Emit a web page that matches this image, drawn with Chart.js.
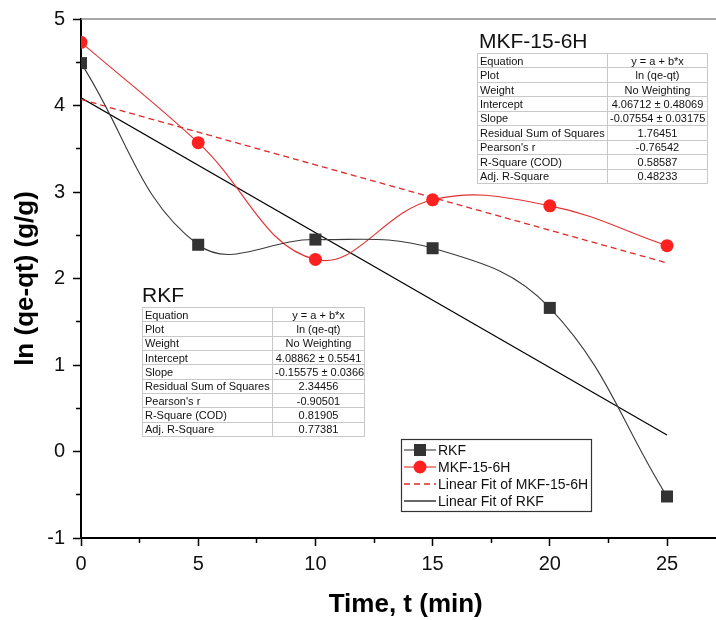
<!DOCTYPE html>
<html><head><meta charset="utf-8">
<script src="https://cdn.jsdelivr.net/npm/chart.js@4"></script>
<style>
html,body{margin:0;padding:0;background:#fff;}
#wrap{position:relative;width:716px;height:620px;font-family:"Liberation Sans",Arial,sans-serif;overflow:hidden;}
#wrap canvas{position:absolute;left:0;top:0;}
.ttl{position:absolute;font-size:21px;line-height:21px;color:#111;white-space:nowrap;}
table.st{position:absolute;border-collapse:collapse;border:1.5px solid #222;font-size:11px;background:#fff;table-layout:fixed;color:#111;}
table.st td{border:1px solid #c8c8c8;padding:0 2px;line-height:12px;white-space:nowrap;overflow:hidden;}
table.st td.v{text-align:center;}
</style></head>
<body>
<div id="wrap">
<canvas id="c" width="716" height="620"></canvas>
<div class="ttl" id="tMKF" style="left:479px;top:30px;"></div>
<table class="st" id="sMKF" style="left:477px;top:53px;width:231px;height:131px;"><colgroup><col style="width:130px"><col></colgroup><tbody></tbody></table>
<div class="ttl" id="tRKF" style="left:142px;top:284px;"></div>
<table class="st" id="sRKF" style="left:142px;top:307px;width:223px;height:130px;"><colgroup><col style="width:130px"><col></colgroup><tbody></tbody></table>
</div>
<script>
// ---- data ----
const times = [0, 5, 10, 15, 20, 25];
const rkf = [4.49, 2.39, 2.45, 2.35, 1.66, -0.52];
const mkf = [4.73, 3.57, 2.22, 2.91, 2.84, 2.38];
const fitTimes = [0, 25];
const rkfFit = [4.09, 0.19];
const mkfFit = [4.07, 2.18];
const xTickLabels = [0, 5, 10, 15, 20, 25];
const yTickLabels = [-1, 0, 1, 2, 3, 4, 5];
const seriesNames = ['RKF', 'MKF-15-6H', 'Linear Fit of MKF-15-6H', 'Linear Fit of RKF'];
const statLabels = ['Equation', 'Plot', 'Weight', 'Intercept', 'Slope', 'Residual Sum of Squares', "Pearson's r", 'R-Square (COD)', 'Adj. R-Square'];
const mkfStats = ['y = a + b*x', 'ln (qe-qt)', 'No Weighting', '4.06712 ± 0.48069', '-0.07554 ± 0.03175', '1.76451', '-0.76542', '0.58587', '0.48233'];
const rkfStats = ['y = a + b*x', 'ln (qe-qt)', 'No Weighting', '4.08862 ± 0.5541', '-0.15575 ± 0.0366', '2.34456', '-0.90501', '0.81905', '0.77381'];

function fillTable(id, vals){
  const tb = document.querySelector('#' + id + ' tbody');
  statLabels.forEach((l, i) => {
    const tr = document.createElement('tr');
    const a = document.createElement('td'); a.textContent = l;
    const b = document.createElement('td'); b.className = 'v'; b.textContent = vals[i];
    tr.appendChild(a); tr.appendChild(b); tb.appendChild(tr);
  });
}
fillTable('sMKF', mkfStats);
fillTable('sRKF', rkfStats);
document.getElementById('tMKF').textContent = seriesNames[1];
document.getElementById('tRKF').textContent = seriesNames[0];

const pts = (xs, ys) => xs.map((x, i) => ({x: x, y: ys[i]}));
const RED = '#ff2020';

const topLine = {
  id: 'topLine',
  afterDraw(chart){
    const {ctx, chartArea} = chart;
    ctx.save();
    ctx.strokeStyle = '#8a8a8a'; ctx.lineWidth = 1.5;
    ctx.beginPath(); ctx.moveTo(chartArea.left, chartArea.top); ctx.lineTo(chart.width, chartArea.top); ctx.stroke();
    ctx.restore();
  }
};

const boxLegend = {
  id: 'boxLegend',
  afterDraw(chart){
    const ctx = chart.ctx;
    const bx = 401, by = 439, bw = 190, bh = 72;
    ctx.save();
    ctx.fillStyle = '#fff'; ctx.fillRect(bx, by, bw, bh);
    ctx.strokeStyle = '#333'; ctx.lineWidth = 1.2; ctx.strokeRect(bx + 0.5, by + 0.5, bw, bh);
    [0, 1, 2, 3].forEach((di, k) => {
      const ds = chart.data.datasets[di];
      const y = by + 11 + k * 17;
      ctx.save();
      ctx.strokeStyle = ds.borderColor; ctx.lineWidth = ds.borderWidth || 1;
      ctx.setLineDash(ds.borderDash || []);
      ctx.beginPath(); ctx.moveTo(bx + 3, y); ctx.lineTo(bx + 35, y); ctx.stroke();
      ctx.restore();
      if (ds.pointRadius) {
        ctx.save();
        ctx.fillStyle = ds.pointBackgroundColor; ctx.strokeStyle = ds.pointBackgroundColor;
        Chart.helpers.drawPoint(ctx, {pointStyle: ds.pointStyle, rotation: 0, borderWidth: 0, radius: ds.pointRadius}, bx + 19, y);
        ctx.restore();
      }
      ctx.fillStyle = '#111';
      ctx.font = '14px "Liberation Sans", Arial, sans-serif';
      ctx.textBaseline = 'middle'; ctx.textAlign = 'left';
      ctx.fillText(ds.label, bx + 37, y + 1);
    });
    ctx.restore();
  }
};

new Chart(document.getElementById('c'), {
  type: 'line',
  data: {
    datasets: [
      {label: seriesNames[0], data: pts(times, rkf), borderColor: '#3a3a3a', borderWidth: 1.1,
       pointStyle: 'rect', pointRadius: 8.5, pointBackgroundColor: '#333', pointBorderColor: '#333', pointBorderWidth: 0,
       tension: 0.4, fill: false},
      {label: seriesNames[1], data: pts(times, mkf), borderColor: '#e03030', borderWidth: 1.1,
       pointStyle: 'circle', pointRadius: 6.5, pointBackgroundColor: RED, pointBorderColor: RED, pointBorderWidth: 0,
       tension: 0.4, fill: false},
      {label: seriesNames[2], data: pts(fitTimes, mkfFit), borderColor: '#e02828', borderWidth: 1.3, borderDash: [6, 4],
       pointRadius: 0, tension: 0, fill: false},
      {label: seriesNames[3], data: pts(fitTimes, rkfFit), borderColor: '#000', borderWidth: 1.2,
       pointRadius: 0, tension: 0, fill: false}
    ]
  },
  options: {
    responsive: false, animation: false,
    layout: {autoPadding: false, padding: {top: 19, right: 0, left: 0, bottom: 0}},
    plugins: {legend: {display: false}, tooltip: {enabled: false}},
    scales: {
      x: {
        type: 'linear', min: 0, max: 27.09,
        afterFit: (s) => { s.height = 82; s.paddingLeft = 0; s.paddingRight = 0; },
        ticks: {stepSize: 2.5, includeBounds: false, autoSkip: false, maxRotation: 0, padding: 6, color: '#111',
          font: {size: 20, family: '"Liberation Sans", Arial, sans-serif'},
          callback: (v) => xTickLabels.includes(v) ? String(v) : ''},
        grid: {drawOnChartArea: false, drawTicks: true, tickLength: 8, tickColor: '#000', tickWidth: 1.5,
          tickBorderDash: (c) => xTickLabels.includes(c.tick.value) ? [] : [4, 100]},
        border: {display: true, color: '#000', width: 2},
        title: {display: true, text: '  Time, t (min)', color: '#000', padding: {top: 0, bottom: 0},
          font: {size: 26, weight: 'bold', family: '"Liberation Sans", Arial, sans-serif'}}
      },
      y: {
        type: 'linear', min: -1, max: 5,
        afterFit: (s) => { s.width = 81; s.paddingTop = 0; s.paddingBottom = 0; },
        ticks: {stepSize: 0.5, autoSkip: false, padding: 8, color: '#111',
          font: {size: 20, family: '"Liberation Sans", Arial, sans-serif'},
          callback: (v) => yTickLabels.includes(v) ? String(v) : ''},
        grid: {drawOnChartArea: false, drawTicks: true, tickLength: 8, tickColor: '#000', tickWidth: 1.5,
          tickBorderDash: (c) => yTickLabels.includes(c.tick.value) ? [] : [0, 3, 4, 100]},
        border: {display: true, color: '#000', width: 2},
        title: {display: true, text: 'ln (qe-qt) (g/g)', color: '#000', padding: {top: 10, bottom: 0},
          font: {size: 26, weight: 'bold', family: '"Liberation Sans", Arial, sans-serif'}}
      }
    }
  },
  plugins: [topLine, boxLegend]
});
</script>
</body></html>
